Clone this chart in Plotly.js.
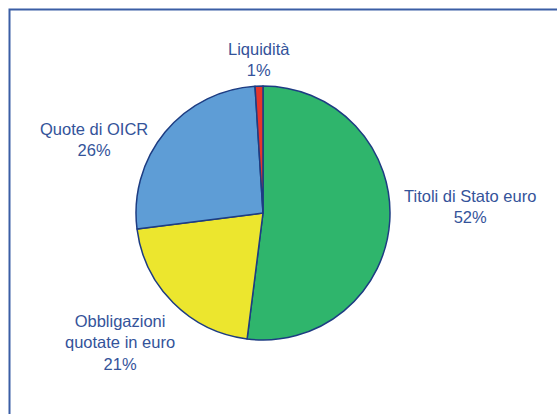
<!DOCTYPE html>
<html><head><meta charset="utf-8">
<script src="https://cdn.plot.ly/plotly-3.0.1.min.js"></script>
<style>html,body{margin:0;padding:0;background:#fff}#chart{width:557px;height:414px}</style>
</head><body><div id="chart"></div>
<script>
const categories = ["Titoli di Stato euro", "Obbligazioni quotate in euro", "Quote di OICR", "Liquidità"];
const labelLines = [["Titoli di Stato euro"], ["Obbligazioni", "quotate in euro"], ["Quote di OICR"], ["Liquidità"]];
const values = [52, 21, 26, 1];
const colors = ["#2fb56c", "#ece62e", "#5e9dd6", "#e6352b"];

const W = 557, H = 414;
const cx = 263, cy = 213, r = 127;
const labelPos = [[470, 206], [120, 342], [94, 140], [259, 60]];

const annotations = categories.map((c, i) => ({
  xref: 'paper', yref: 'paper',
  x: labelPos[i][0] / W, y: 1 - labelPos[i][1] / H,
  xanchor: 'center', yanchor: 'middle',
  text: labelLines[i].join('<br>') + '<br>' + values[i] + '%',
  showarrow: false,
  align: 'center',
  font: {family: 'Liberation Sans, Arial, sans-serif', size: 16.5, color: '#34539a'}
}));

const data = [{
  type: 'pie',
  labels: categories,
  values: values,
  sort: false,
  direction: 'clockwise',
  rotation: 0,
  textinfo: 'none',
  hoverinfo: 'label+percent',
  marker: {colors: colors, line: {color: '#1d3c82', width: 1.5}},
  domain: {x: [(cx - r) / W, (cx + r) / W], y: [1 - (cy + r) / H, 1 - (cy - r) / H]},
  showlegend: false
}];

const layout = {
  width: W, height: H,
  margin: {l: 0, r: 0, t: 0, b: 0},
  paper_bgcolor: '#ffffff',
  showlegend: false,
  annotations: annotations,
  shapes: [{
    type: 'rect', xref: 'paper', yref: 'paper',
    x0: 9.5 / W, x1: 1.02, y0: -0.02, y1: 1 - 9.5 / H,
    line: {color: '#3b5ea5', width: 2}
  }]
};
Plotly.newPlot('chart', data, layout, {displayModeBar: false, staticPlot: true});
</script></body></html>
